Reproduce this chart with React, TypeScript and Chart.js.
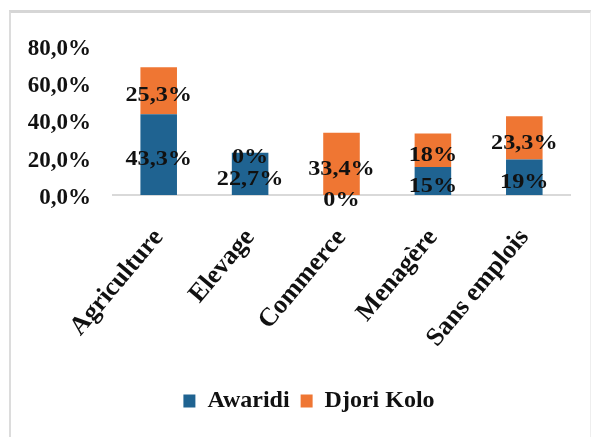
import React, { useEffect, useRef } from 'react';
import { Chart, registerables } from 'chart.js';

Chart.register(...registerables);

const categories = ['Agriculture', 'Elevage', 'Commerce', 'Menagère', 'Sans emplois'];
const seriesNames = ['Awaridi', 'Djori Kolo'];
const awaridi = [43.3, 22.7, 0, 15, 19];
const djoriKolo = [25.3, 0, 33.4, 18, 23.3];
const yMin = 0;
const yMax = 80;
const yStep = 20;

const BLUE = '#1f6391';
const ORANGE = '#ef7633';
const FONT = '"Liberation Serif", "Times New Roman", serif';

const fmtPct = (v: number) => String(v).replace('.', ',') + '%';

const valueLabels = {
  id: 'valueLabels',
  afterDatasetsDraw(chart: any) {
    const ctx = chart.ctx;
    chart.data.datasets.forEach((ds: any, d: number) => {
      const meta = chart.getDatasetMeta(d);
      meta.data.forEach((bar: any, i: number) => {
        const { x, y, base } = bar.getProps(['x', 'y', 'base'], true);
        const cy = (y + base) / 2 + 5;
        ctx.save();
        ctx.translate(x, cy);
        ctx.scale(1.1, 1);
        ctx.font = `bold 22px ${FONT}`;
        ctx.fillStyle = '#111';
        ctx.textAlign = 'center';
        ctx.textBaseline = 'middle';
        ctx.fillText(fmtPct(ds.data[i]), 0, 0);
        ctx.restore();
      });
    });
  },
};

export default function App() {
  const ref = useRef<HTMLCanvasElement>(null);

  useEffect(() => {
    if (!ref.current) return;
    const chart = new Chart(ref.current, {
      type: 'bar',
      data: {
        labels: categories,
        datasets: [
          { label: seriesNames[0], data: awaridi, backgroundColor: BLUE, barPercentage: 0.4, categoryPercentage: 1 },
          { label: seriesNames[1], data: djoriKolo, backgroundColor: ORANGE, barPercentage: 0.4, categoryPercentage: 1 },
        ],
      },
      options: {
        animation: false,
        responsive: false,
        maintainAspectRatio: false,
        layout: { padding: { left: 23, right: 0, top: 46, bottom: 14 } },
        plugins: {
          tooltip: { enabled: false },
          legend: {
            position: 'bottom',
            labels: {
              font: { family: FONT, size: 24, weight: 'bold' },
              color: '#111',
              boxWidth: 12,
              boxHeight: 13,
              padding: 11,
            },
          },
        },
        scales: {
          x: {
            stacked: true,
            grid: { display: false },
            border: { display: true, color: '#d9d9d9', width: 2 },
            ticks: {
              font: { family: FONT, size: 26, weight: 'bold' },
              color: '#111',
              minRotation: 50,
              maxRotation: 50,
              padding: 20,
              labelOffset: 0,
              autoSkip: false,
            },
            afterFit: (s: any) => { s.height = 183; },
          },
          y: {
            stacked: true,
            min: yMin,
            max: yMax,
            grid: { display: false, drawTicks: false },
            border: { display: false },
            ticks: {
              stepSize: yStep,
              font: { family: FONT, size: 23, weight: 'bold' },
              color: '#111',
              padding: 22,
              labelOffset: 3,
              callback: (v: any) => Number(v).toFixed(1).replace('.', ',') + '%',
            },
            afterFit: (s: any) => { s.width = 90; },
          },
          yr: {
            type: 'linear',
            position: 'right',
            display: true,
            grid: { display: false, drawTicks: false },
            border: { display: false },
            ticks: { display: false },
            afterFit: (s: any) => { s.width = 25; },
          },
        },
      } as any,
      plugins: [valueLabels],
    });
    return () => chart.destroy();
  }, []);

  return (
    <div style={{ position: 'absolute', left: 0, top: 0, width: 595, height: 437, overflow: 'hidden', background: '#fff' }}>
      <div
        style={{
          position: 'absolute',
          left: 9,
          top: 10,
          width: 582,
          height: 440,
          borderTop: '3px solid #d6d6d6',
          borderLeft: '2px solid #dcdcdc',
          borderRight: '1px solid #eeeeee',
          boxSizing: 'border-box',
        }}
      />
      <canvas ref={ref} width={595} height={437} style={{ position: 'absolute', left: 0, top: 0 }} />
    </div>
  );
}
